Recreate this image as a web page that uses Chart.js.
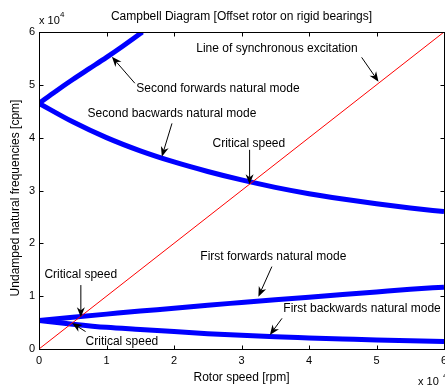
<!DOCTYPE html>
<html>
<head>
<meta charset="utf-8">
<title>Campbell Diagram</title>
<script src="https://cdn.jsdelivr.net/npm/chart.js@4.4.0/dist/chart.umd.min.js"></script>
<style>
  html, body { margin: 0; padding: 0; background: #fff; }
  canvas { display: block; }
</style>
</head>
<body>
<canvas id="campbell" width="445" height="390"></canvas>
<script>
// rotor speed [rpm] and natural frequencies [cpm], both in units of 1e4
const speeds = [0, 0.5, 1, 1.5, 2, 2.5, 3, 3.5, 4, 4.5, 5, 5.5, 6];
const secondBackward = [4.65, 4.30, 4.00, 3.75, 3.54, 3.36, 3.20, 3.06, 2.94, 2.84, 2.75, 2.67, 2.60];
const firstForward = [0.54, 0.6, 0.66, 0.72, 0.77, 0.83, 0.88, 0.93, 0.98, 1.03, 1.08, 1.13, 1.17];
const firstBackward = [0.54, 0.47, 0.41, 0.37, 0.33, 0.29, 0.26, 0.23, 0.21, 0.19, 0.17, 0.155, 0.14];

const forwardSpeeds = [0, 0.25, 0.5, 0.75, 1.0, 1.25, 1.5, 1.53];
const secondForward = [4.65, 4.88, 5.10, 5.31, 5.52, 5.74, 5.97, 6.0];

const syncSpeeds = [0, 6];
const syncFreqs = [0, 6];

const tickValues = [0, 1, 2, 3, 4, 5, 6];

// callouts: text anchor (left, middle), arrow tail, arrow head - data units
const callouts = [
  { text: 'Line of synchronous excitation', at: [2.33, 5.68], from: [4.78, 5.52], to: [5.03, 5.06] },
  { text: 'Second forwards natural mode', at: [1.44, 4.92], from: [1.42, 5.03], to: [1.08, 5.53] },
  { text: 'Second bacwards natural mode', at: [0.72, 4.46], from: [1.97, 4.27], to: [1.82, 3.64] },
  { text: 'Critical speed', at: [2.57, 3.89], from: [3.12, 3.77], to: [3.12, 3.12] },
  { text: 'First forwards natural mode', at: [2.39, 1.74], from: [3.45, 1.56], to: [3.25, 0.99] },
  { text: 'First backwards natural mode', at: [3.62, 0.76], from: [3.6, 0.58], to: [3.42, 0.265] },
  { text: 'Critical speed', at: [0.08, 1.40], from: [0.62, 1.21], to: [0.62, 0.6] },
  { text: 'Critical speed', at: [0.69, 0.14], from: [0.69, 0.33], to: [0.49, 0.49] }
];

const FONT = '"Liberation Sans", Arial, Helvetica, sans-serif';
const pts = (xs, ys) => xs.map((v, i) => ({ x: v, y: ys[i] }));

function drawArrow(ctx, x0, y0, x1, y1) {
  const ang = Math.atan2(y1 - y0, x1 - x0);
  const len = 10, half = 4, notch = 7;
  const bx = x1 - notch * Math.cos(ang), by = y1 - notch * Math.sin(ang);
  ctx.beginPath();
  ctx.moveTo(x0, y0);
  ctx.lineTo(bx, by);
  ctx.stroke();
  const cx = x1 - len * Math.cos(ang), cy = y1 - len * Math.sin(ang);
  const nx = -Math.sin(ang) * half, ny = Math.cos(ang) * half;
  ctx.beginPath();
  ctx.moveTo(x1, y1);
  ctx.lineTo(cx + nx, cy + ny);
  ctx.lineTo(bx, by);
  ctx.lineTo(cx - nx, cy - ny);
  ctx.closePath();
  ctx.fill();
}

const framePlugin = {
  id: 'frame',
  afterDraw(chart) {
    const { ctx, chartArea: a, scales: { x, y } } = chart;
    ctx.save();
    ctx.strokeStyle = '#000';
    ctx.fillStyle = '#000';
    ctx.lineWidth = 1;

    // box
    ctx.strokeRect(a.left + 0.5, a.top + 0.5, a.right - a.left, a.bottom - a.top);

    // inward ticks on all four sides
    ctx.beginPath();
    tickValues.forEach(v => {
      const px = Math.round(x.getPixelForValue(v)) + 0.5;
      ctx.moveTo(px, a.bottom + 0.5); ctx.lineTo(px, a.bottom - 3.5);
      ctx.moveTo(px, a.top + 0.5); ctx.lineTo(px, a.top + 4.5);
      const py = Math.round(y.getPixelForValue(v)) + 0.5;
      ctx.moveTo(a.left + 0.5, py); ctx.lineTo(a.left + 4.5, py);
      ctx.moveTo(a.right + 0.5, py); ctx.lineTo(a.right - 3.5, py);
    });
    ctx.stroke();

    // exponent labels
    ctx.textBaseline = 'middle';
    ctx.textAlign = 'left';
    ctx.font = '11px ' + FONT;
    ctx.fillText('x 10', a.left, 21);
    ctx.fillText('x 10', 418, 382);
    ctx.font = '8px ' + FONT;
    ctx.fillText('4', a.left + 21, 15);
    ctx.fillText('4', 443, 376);

    // y axis label
    ctx.save();
    ctx.font = '12px ' + FONT;
    ctx.textAlign = 'center';
    ctx.translate(16, 198);
    ctx.rotate(-Math.PI / 2);
    ctx.fillText('Undamped natural frequencies [cpm]', 0, 0);
    ctx.restore();

    // callouts
    ctx.font = '12px ' + FONT;
    ctx.textAlign = 'left';
    callouts.forEach(c => {
      ctx.fillText(c.text, x.getPixelForValue(c.at[0]), y.getPixelForValue(c.at[1]));
      drawArrow(ctx,
        x.getPixelForValue(c.from[0]), y.getPixelForValue(c.from[1]),
        x.getPixelForValue(c.to[0]), y.getPixelForValue(c.to[1]));
    });
    ctx.restore();
  }
};

const blue = { borderColor: '#0000ff', borderWidth: 5, pointRadius: 0, cubicInterpolationMode: 'monotone', clip: 0 };

new Chart(document.getElementById('campbell'), {
  type: 'line',
  data: {
    datasets: [
      { label: 'Synchronous', data: pts(syncSpeeds, syncFreqs), borderColor: '#ff0000', borderWidth: 1, pointRadius: 0 },
      { label: 'Second forwards', data: pts(forwardSpeeds, secondForward), ...blue },
      { label: 'Second backwards', data: pts(speeds, secondBackward), ...blue },
      { label: 'First forwards', data: pts(speeds, firstForward), ...blue },
      { label: 'First backwards', data: pts(speeds, firstBackward), ...blue }
    ]
  },
  options: {
    responsive: false,
    animation: false,
    devicePixelRatio: 1,
    layout: { padding: { top: 0, right: 1, bottom: 0, left: 0 } },
    plugins: {
      legend: { display: false },
      tooltip: { enabled: false },
      title: {
        display: true,
        fullSize: false,
        text: 'Campbell Diagram [Offset rotor on rigid bearings]',
        color: '#000',
        font: { family: FONT, size: 12, weight: 'normal', lineHeight: 1.2 },
        padding: { top: 9, bottom: 8.6 }
      }
    },
    scales: {
      x: {
        type: 'linear',
        min: 0, max: 6,
        afterFit: s => { s.height = 41; s.paddingLeft = 0; s.paddingRight = 0; },
        grid: { display: false, drawTicks: false },
        border: { display: false },
        ticks: { stepSize: 1, color: '#000', padding: 5.5, font: { family: FONT, size: 11 } },
        title: {
          display: true,
          text: 'Rotor speed [rpm]',
          color: '#000',
          font: { family: FONT, size: 12, lineHeight: 1.2 },
          padding: { top: 0, bottom: 4.8 }
        }
      },
      y: {
        type: 'linear',
        min: 0, max: 6,
        afterFit: s => { s.width = 39; s.paddingTop = 0; s.paddingBottom = 0; },
        grid: { display: false, drawTicks: false },
        border: { display: false },
        ticks: { stepSize: 1, color: '#000', padding: 4, font: { family: FONT, size: 11 } }
      }
    }
  },
  plugins: [framePlugin]
});
</script>
</body>
</html>
